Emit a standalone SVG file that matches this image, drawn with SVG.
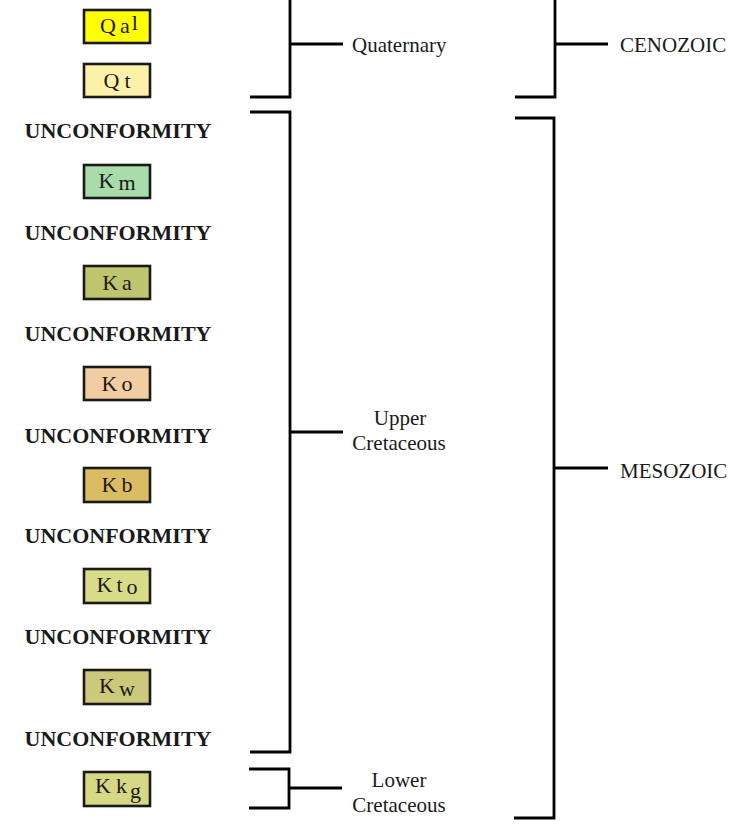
<svg xmlns="http://www.w3.org/2000/svg" width="740" height="832" viewBox="0 0 740 832">
<style>
.box{stroke:#1a1a1a;stroke-width:2.6}
.bt{font-family:"Liberation Serif","Times New Roman",serif;font-size:22px;fill:#1a1a1a;text-anchor:middle}
.un{font-family:"Liberation Serif","Times New Roman",serif;font-size:22px;font-weight:bold;fill:#1a1a1a;text-anchor:middle}
.lb{font-family:"Liberation Serif","Times New Roman",serif;font-size:21px;fill:#1a1a1a}
.lbc{font-family:"Liberation Serif","Times New Roman",serif;font-size:21px;fill:#1a1a1a;text-anchor:middle}
.br{fill:none;stroke:#000;stroke-width:2.8}
</style>
<rect width="740" height="832" fill="#fff"/>
<g id="Qal"><rect class="box" x="84" y="10" width="66" height="33" fill="#FFFF00"/><text class="bt" x="119" y="33">Q<tspan dx="4">a</tspan><tspan dx="2" dy="-3">l</tspan></text></g>
<g id="Qt"><rect class="box" x="84" y="64" width="66" height="33" fill="#FCF1A8"/><text class="bt" x="117" y="88">Q<tspan dx="5">t</tspan></text></g>
<text class="un" x="118" y="138">UNCONFORMITY</text>
<g id="Km"><rect class="box" x="84" y="165" width="66" height="33" fill="#A9DCAA"/><text class="bt" x="117" y="188">K<tspan dx="4" dy="2">m</tspan></text></g>
<text class="un" x="118" y="240">UNCONFORMITY</text>
<g id="Ka"><rect class="box" x="84" y="266" width="66" height="33" fill="#BFC46F"/><text class="bt" x="117" y="290">K<tspan dx="4">a</tspan></text></g>
<text class="un" x="118" y="341">UNCONFORMITY</text>
<g id="Ko"><rect class="box" x="84" y="367" width="66" height="33" fill="#F3CDA2"/><text class="bt" x="117" y="391">K<tspan dx="4">o</tspan></text></g>
<text class="un" x="118" y="443">UNCONFORMITY</text>
<g id="Kb"><rect class="box" x="84" y="468" width="66" height="34" fill="#DABD62"/><text class="bt" x="117" y="492">K<tspan dx="4">b</tspan></text></g>
<text class="un" x="118" y="543">UNCONFORMITY</text>
<g id="Kto"><rect class="box" x="84" y="569" width="66" height="34" fill="#D8DC88"/><text class="bt" x="117" y="592">K<tspan dx="4">t</tspan><tspan dx="4" dy="2">o</tspan></text></g>
<text class="un" x="118" y="644">UNCONFORMITY</text>
<g id="Kw"><rect class="box" x="84" y="670" width="66" height="34" fill="#CCC97A"/><text class="bt" x="117" y="693">K<tspan dx="4" dy="3">w</tspan></text></g>
<text class="un" x="118" y="746">UNCONFORMITY</text>
<g id="Kkg"><rect class="box" x="84" y="772" width="66" height="34" fill="#D6D886"/><text class="bt" x="118" y="793">K<tspan dx="5">k</tspan><tspan dx="3" dy="5">g</tspan></text></g>
<g id="connectors">
<path class="br" d="M250,97 H290 V-5 M290,44 H343"/>
<path class="br" d="M515,97 H555 V-5 M555,44 H608"/>
<path class="br" d="M250,112 H290 V752 H250 M290,432 H343"/>
<path class="br" d="M515,118 H554 V818 H514 M554,468 H608"/>
<path class="br" d="M249,769 H289 V808 H249 M289,788 H342"/>
</g>
<g id="Quaternary"><text class="lb" x="352" y="52">Quaternary</text></g>
<g id="CENOZOIC"><text class="lb" x="620" y="52">CENOZOIC</text></g>
<g id="UpperCretaceous"><text class="lbc" x="400" y="425">Upper</text><text class="lbc" x="399" y="450">Cretaceous</text></g>
<g id="MESOZOIC"><text class="lb" x="620" y="478">MESOZOIC</text></g>
<g id="LowerCretaceous"><text class="lbc" x="399" y="787">Lower</text><text class="lbc" x="399" y="812">Cretaceous</text></g>
</svg>
